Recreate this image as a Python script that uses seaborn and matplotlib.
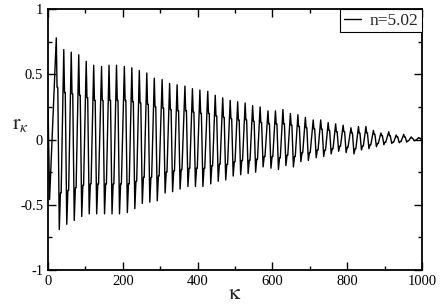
import numpy as np
import pandas as pd
import seaborn as sns
import matplotlib
matplotlib.use("Agg")
import matplotlib.pyplot as plt
from matplotlib.ticker import MultipleLocator

# values
start_k = [0, 4]
start_r = [0.25, -0.46]

peak_k = [22, 42, 62, 82, 102, 122, 143, 163, 183, 204, 224, 244, 264, 284, 305,
          325, 345, 366, 386, 406, 427, 447, 467, 487, 507, 527, 547, 567, 588, 608,
          628, 648, 668, 688, 709, 729, 749, 769, 789, 810, 830, 850, 870, 890, 911,
          931, 951, 971, 991]
peak_r = [0.78, 0.69, 0.67, 0.65, 0.60, 0.57, 0.56, 0.57, 0.57, 0.56, 0.55, 0.53,
          0.51, 0.47, 0.46, 0.43, 0.42, 0.41, 0.39, 0.38, 0.37, 0.34, 0.32, 0.30,
          0.29, 0.28, 0.26, 0.25, 0.22, 0.22, 0.23, 0.20, 0.19, 0.17, 0.15, 0.15,
          0.13, 0.12, 0.11, 0.09, 0.10, 0.10, 0.07, 0.05, 0.06, 0.035, 0.04, 0.02,
          0.015]
# shoulder on the falling side, just after each peak
fall_r = [0.40, 0.36, 0.35, 0.34, 0.32, 0.30, 0.30, 0.30, 0.30, 0.30, 0.29, 0.28,
          0.27, 0.25, 0.24, 0.23, 0.22, 0.22, 0.21, 0.20, 0.20, 0.18, 0.17, 0.16,
          0.15, 0.15, 0.14, 0.13, 0.12, 0.12, 0.12, 0.11, 0.10, 0.09, 0.08, 0.08,
          0.07, 0.06, 0.06, 0.05, 0.05, 0.05, 0.04, 0.03, 0.03, 0.02, 0.02, 0.01,
          0.01]

trough_k = [30, 50, 70, 90, 110, 130, 151, 171, 191, 212, 232, 252, 272, 292, 313,
            333, 353, 374, 394, 414, 435, 455, 475, 495, 515, 535, 555, 575, 596, 616,
            636, 656, 676, 696, 717, 737, 757, 777, 797, 818, 838, 858, 878, 898, 919,
            939, 959, 979, 999]
trough_r = [-0.69, -0.65, -0.62, -0.59, -0.57, -0.57, -0.57, -0.57, -0.57, -0.56,
            -0.53, -0.49, -0.48, -0.47, -0.41, -0.40, -0.38, -0.36, -0.36, -0.36,
            -0.34, -0.32, -0.31, -0.28, -0.27, -0.26, -0.25, -0.21, -0.22, -0.23,
            -0.20, -0.21, -0.17, -0.16, -0.14, -0.13, -0.11, -0.09, -0.10, -0.11,
            -0.08, -0.07, -0.055, -0.04, -0.03, -0.025, -0.02, -0.01, -0.005]
# shoulder on the rising side, just after each trough
rise_r = [-0.41, -0.39, -0.37, -0.35, -0.34, -0.34, -0.34, -0.34, -0.34, -0.34,
          -0.32, -0.29, -0.29, -0.28, -0.25, -0.24, -0.23, -0.22, -0.22, -0.22,
          -0.20, -0.19, -0.19, -0.17, -0.16, -0.16, -0.15, -0.13, -0.13, -0.14,
          -0.12, -0.13, -0.10, -0.10, -0.08, -0.08, -0.07, -0.05, -0.06, -0.07,
          -0.05, -0.04, -0.03, -0.02, -0.02, -0.015, -0.01, -0.005, -0.003]

kap = list(start_k) + list(peak_k) + list(trough_k)
val = list(start_r) + list(peak_r) + list(trough_r)
for k, s in zip(peak_k, fall_r):
    kap += [k + 2, k + 4]
    val += [s, s]
for k, s in zip(trough_k, rise_r):
    kap += [k + 3, k + 5]
    val += [s, s]

df = pd.DataFrame({"kappa": kap, "r": val}).sort_values("kappa")
df["label"] = "n=5.02"

sns.set_style("ticks")
plt.rcParams["font.family"] = ["Liberation Serif", "DejaVu Serif"]
plt.rcParams["mathtext.fontset"] = "stix"

fig = plt.figure(figsize=(4.41, 3.05), dpi=100)
ax = fig.add_axes([0.109, 0.115, 0.848, 0.855])

sns.lineplot(data=df, x="kappa", y="r", hue="label", palette=["black"],
             estimator=None, sort=False, linewidth=1.0, ax=ax)

ax.set_xlim(0, 1000)
ax.set_ylim(-1, 1)
ax.xaxis.set_major_locator(MultipleLocator(200))
ax.xaxis.set_minor_locator(MultipleLocator(100))
ax.yaxis.set_major_locator(MultipleLocator(0.5))
ax.yaxis.set_minor_locator(MultipleLocator(0.25))
ax.set_yticks([-1, -0.5, 0, 0.5, 1])
ax.set_yticklabels(["-1", "-0.5", "0", "0.5", "1"])
ax.tick_params(which="both", direction="in", top=True, right=True,
               labelsize=10.5, width=1, colors="black")
ax.tick_params(which="major", length=6)
ax.tick_params(which="minor", length=3)
for s in ax.spines.values():
    s.set_linewidth(1.3)
    s.set_color("black")

ax.set_xlabel(r"$\mathrm{\kappa}$", fontsize=16, labelpad=-2)
ax.set_ylabel(r"$\mathrm{r}_{\kappa}$", fontsize=16, rotation=0)
ax.yaxis.set_label_coords(-0.075, 0.52)

leg = ax.legend(loc="upper right", borderaxespad=0, fancybox=False,
                edgecolor="black", framealpha=1, fontsize=12.5, handlelength=1.0,
                handletextpad=0.5, borderpad=0.2)
leg.get_frame().set_linewidth(0.8)

fig.savefig("out.png", dpi=100)
